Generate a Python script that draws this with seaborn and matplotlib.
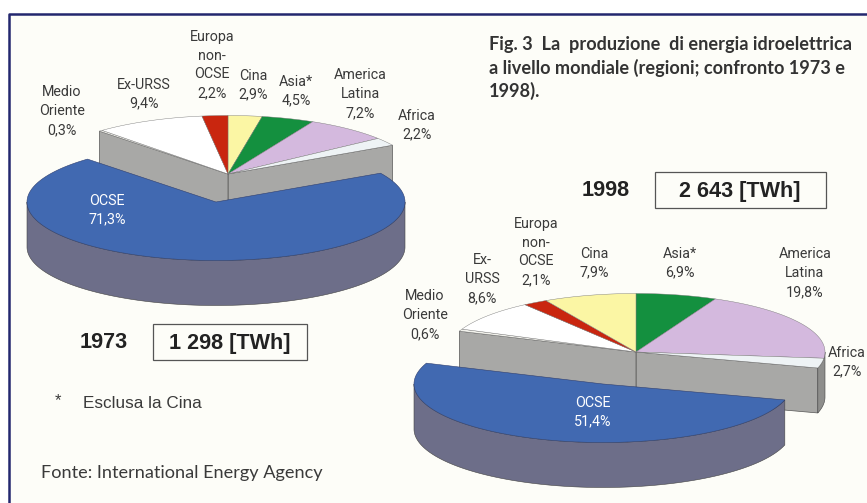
# Fig. 3 produzione idroelettrica, confronto 1973 / 1998
import numpy as np
import matplotlib.pyplot as plt
import seaborn as sns

# DATA (clockwise, starting from the top of the pie)
regions_1973 = ["Cina", "Asia", "America Latina", "Africa", "OCSE",
                "Medio Oriente", "Ex-URSS", "Europa non-OCSE"]
shares_1973 = [2.9, 4.5, 7.2, 2.2, 71.3, 0.3, 9.4, 2.2]
regions_1998 = ["Asia", "America Latina", "Africa", "OCSE",
                "Medio Oriente", "Ex-URSS", "Europa non-OCSE", "Cina"]
shares_1998 = [6.9, 19.8, 2.7, 51.4, 0.6, 8.6, 2.1, 7.9]

sns.set_theme(style="white")
plt.rcParams['font.family'] = ['Roboto', 'DejaVu Sans']

palette = dict(zip(
    ["OCSE", "Medio Oriente", "Ex-URSS", "Europa non-OCSE", "Cina", "Asia",
     "America Latina", "Africa"],
    sns.color_palette(["#4169b1", "#f2f2ec", "#ffffff", "#c9260f", "#fbf6a4",
                       "#14903f", "#d4b9de", "#eef3f5"])
))

RX, RY, DEPTH = 189, 58.5, 45
BACK_WALL = "#a8a8a6"
OUTER_WALL = "#8e8e8c"
OCSE_WALL = "#6d6e89"
TEXT = "#3a3a3a"


def arc(cx, cy, a0, a1):
    # angles in degrees, clockwise from the top of the ellipse
    t = np.radians(np.linspace(a0, a1, max(int(abs(a1 - a0)) * 2, 2)))
    return cx + RX * np.sin(t), cy - RY * np.cos(t)


def outer_wall(ax, cx, cy, a0, a1, color):
    # only the front half of the rim can be seen
    a0, a1 = max(a0, 90), min(a1, 270)
    if a1 <= a0:
        return
    x, y = arc(cx, cy, a0, a1)
    ax.fill(np.r_[x, x[::-1]], np.r_[y, y[::-1] + DEPTH], color=color, ec="#444444", lw=0.4)


def draw_pie(ax, cx, cy, regions, shares, dx, dy):
    edges = np.r_[0, np.cumsum(shares)] * 3.6
    i = regions.index("OCSE")
    a0, a1 = edges[i], edges[i + 1]

    # the cut faces left by the slice pulled out
    for ang in (a0, a1):
        x, y = arc(cx, cy, ang, ang)
        px = [cx, x[0], x[0], cx]
        py = [cy, y[0], y[0] + DEPTH, cy + DEPTH]
        ax.fill(px, py, color=BACK_WALL, ec="#555555", lw=0.5)
    outer_wall(ax, cx, cy, 0, a0, OUTER_WALL)
    outer_wall(ax, cx, cy, a1, 360, OUTER_WALL)

    for name, s0, s1 in zip(regions, edges[:-1], edges[1:]):
        if name == "OCSE":
            continue
        x, y = arc(cx, cy, s0, s1)
        ax.fill(np.r_[cx, x], np.r_[cy, y], color=palette[name], ec="#777777", lw=0.3)

    # OCSE in front
    ox, oy = cx + dx, cy + dy
    outer_wall(ax, ox, oy, a0, a1, OCSE_WALL)
    x, y = arc(ox, oy, a0, a1)
    ax.fill(np.r_[ox, x], np.r_[oy, y], color=palette["OCSE"], ec="#2f3f70", lw=0.4)


fig = plt.figure(figsize=(8.67, 5.03), dpi=100, facecolor="white")
ax = fig.add_axes([0, 0, 1, 1])
ax.set_xlim(0, 867)
ax.set_ylim(503, 0)
ax.axis("off")

# fondo e cornice
ax.fill([9, 867, 867, 9], [14, 14, 503, 503], color="#fdfdf8", lw=0)
ax.plot([9, 9, 867], [503, 14, 14], color="#23276e", lw=1.8, solid_capstyle="butt")

draw_pie(ax, 228, 174, regions_1973, shares_1973, -12, 28)
draw_pie(ax, 636, 352, regions_1998, shares_1998, -33, 32)

labels = [
    (62, 111, "Medio\nOriente\n0,3%"),
    (144, 94, "Ex-URSS\n9,4%"),
    (212, 65, "Europa\nnon-\nOCSE\n2,2%"),
    (253, 85, "Cina\n2,9%"),
    (296, 91, "Asia*\n4,5%"),
    (360, 94, "America\nLatina\n7,2%"),
    (417, 125, "Africa\n2,2%"),
    (425, 315, "Medio\nOriente\n0,6%"),
    (482, 279, "Ex-\nURSS\n8,6%"),
    (536, 252, "Europa\nnon-\nOCSE\n2,1%"),
    (594, 263, "Cina\n7,9%"),
    (680, 263, "Asia*\n6,9%"),
    (805, 273, "America\nLatina\n19,8%"),
    (847, 362, "Africa\n2,7%"),
]
for x, y, txt in labels:
    ax.text(x, y, txt, ha="center", va="center", fontsize=10.3, color=TEXT, linespacing=1.45)

ax.text(107, 210, "OCSE\n71,3%", ha="center", va="center", fontsize=10.3, color="white", linespacing=1.45)
ax.text(593, 412, "OCSE\n51,4%", ha="center", va="center", fontsize=10.3, color="white", linespacing=1.45)

# totali
bold = ['Liberation Sans', 'DejaVu Sans']
ax.text(104, 342, "1973", ha="center", va="center", fontsize=15.6, weight="bold", family=bold, color="#222222")
ax.text(606, 190, "1998", ha="center", va="center", fontsize=15.6, weight="bold", family=bold, color="#222222")
box = dict(fc="none", ec="#555555", lw=0.9)
ax.fill([153, 307, 307, 153], [324, 324, 360, 360], **box)
ax.fill([655, 826, 826, 655], [172, 172, 208, 208], **box)
ax.text(230, 343, "1 298 [TWh]", ha="center", va="center", fontsize=15.6, weight="bold", family=bold, color="#222222")
ax.text(740, 191, "2 643 [TWh]", ha="center", va="center", fontsize=15.6, weight="bold", family=bold, color="#222222")

# titolo e note
title = ("Fig. 3  La  produzione  di energia idroelettrica\n"
         "a livello mondiale (regioni; confronto 1973 e\n"
         "1998).")
ax.text(489, 68, title, ha="left", va="center", fontsize=13.1, weight="bold", color="#333333",
        family=['Lato', 'DejaVu Sans'], linespacing=1.36)
ax.text(58, 401, "*", ha="center", va="center", fontsize=12, color=TEXT, family=bold)
ax.text(83, 403, "Esclusa la Cina", ha="left", va="center", fontsize=12.3, color=TEXT, family=bold)
ax.text(41, 473, "Fonte: International Energy Agency", ha="left", va="center", fontsize=13.1, color=TEXT,
        family=['Lato', 'DejaVu Sans'])

fig.savefig("out.png", dpi=100)
